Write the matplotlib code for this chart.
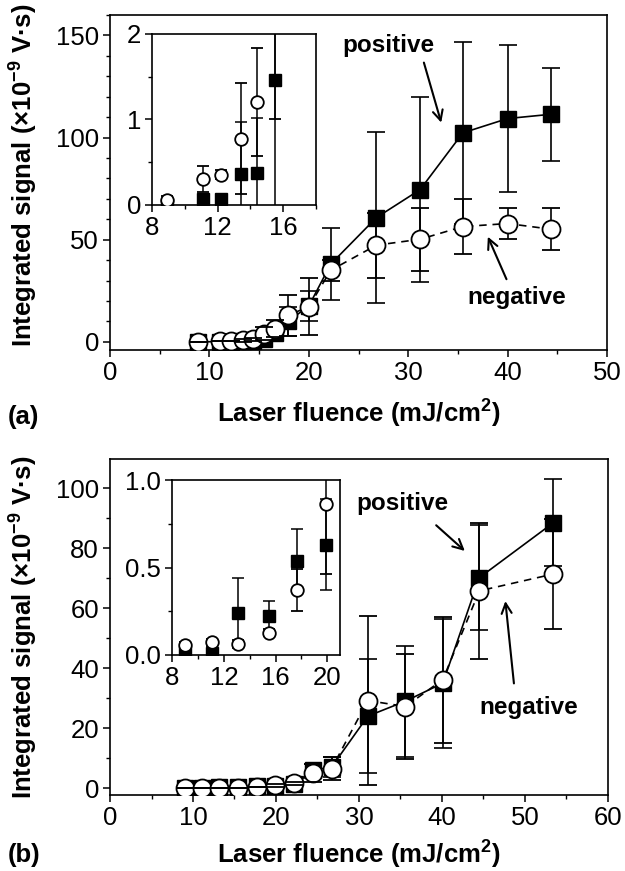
import matplotlib
matplotlib.use('Agg')
import matplotlib.pyplot as plt
from matplotlib.ticker import MultipleLocator, FormatStrFormatter

plt.rcParams.update({
    'font.family': ['Liberation Sans', 'DejaVu Sans'],
    'mathtext.fontset': 'custom',
    'mathtext.rm': 'Liberation Sans',
    'mathtext.bf': 'Liberation Sans:bold',
    'mathtext.it': 'Liberation Sans:italic',
    'axes.linewidth': 1.2,
    'xtick.direction': 'out', 'ytick.direction': 'out',
    'xtick.major.size': 5, 'ytick.major.size': 5,
    'xtick.minor.size': 3, 'ytick.minor.size': 3,
    'xtick.major.width': 1.1, 'ytick.major.width': 1.1,
    'xtick.minor.width': 1.0, 'ytick.minor.width': 1.0,
})

# ---------------- data: panel (a) ----------------
a_fluence = [8.9, 11.1, 12.2, 13.4, 14.4, 15.5, 16.6, 17.9, 20.0, 22.2, 26.8, 31.2, 35.5, 40.0, 44.4]
a_positive = [0.0, 0.07, 0.07, 0.36, 0.37, 1.46, 4.5, 10.0, 17.5, 38.0, 60.8, 74.5, 102.3, 109.3, 111.4]
a_positive_err = [0.02, 0.02, 0.02, 0.61, 0.65, 3.0, 2.0, 7.0, 7.3, 17.5, 42.0, 45.3, 44.7, 35.8, 22.8]
a_negative = [0.05, 0.3, 0.35, 0.77, 1.2, 4.0, 6.5, 13.0, 17.1, 35.0, 47.3, 50.2, 56.4, 57.9, 55.1]
a_negative_err = [0.05, 0.15, 0.05, 0.65, 0.63, 3.0, 4.2, 10.0, 14.0, 5.0, 16.0, 15.5, 13.3, 7.6, 10.3]

# ---------------- data: panel (b) ----------------
b_fluence = [8.98, 11.04, 13.1, 15.46, 17.7, 19.9, 22.2, 24.5, 26.7, 31.06, 35.6, 40.1, 44.5, 53.4]
b_positive = [0.01, 0.01, 0.24, 0.22, 0.54, 0.63, 1.5, 6.0, 7.0, 24.0, 29.0, 35.0, 70.2, 88.5]
b_positive_err = [0.01, 0.01, 0.2, 0.09, 0.18, 0.26, 0.5, 2.0, 3.2, 19.0, 18.5, 21.5, 17.5, 14.5]
b_negative = [0.055, 0.074, 0.065, 0.128, 0.374, 0.863, 1.6, 5.0, 6.5, 29.2, 27.2, 36.2, 65.8, 71.4]
b_negative_err = [0.02, 0.02, 0.02, 0.02, 0.12, 0.4, 0.5, 3.0, 3.8, 28.2, 17.5, 21.0, 22.7, 18.4]

ylabel_text = r'Integrated signal (×10$^{\mathbf{-9}}$ V·s)'
xlabel_text = r'Laser fluence (mJ/cm$^{\mathbf{2}}$)'

TICK_FS = 18.5
LABEL_FS = 18.5
NOTE_FS = 17.5


def draw(ax, x, pos, pos_err, neg, neg_err, ms, cap, lines=True, lw=1.2):
    ax.errorbar(x, pos, yerr=pos_err, fmt='s', ls='-' if lines else 'none',
                color='black', mfc='black', mec='black', ms=ms, lw=lw,
                elinewidth=lw, capsize=cap, capthick=lw, zorder=2)
    cont = ax.errorbar(x, neg, yerr=neg_err, fmt='o', ls='--' if lines else 'none',
                       color='black', mfc='white', mec='black', mew=1.3, ms=ms * 1.08,
                       lw=lw, elinewidth=lw, capsize=cap, capthick=lw, zorder=3)
    if lines:
        cont[0].set_dashes([4.5, 3.5])
        # caps of the open circles are drawn over the symbol (as in the original)
        for cl in cont[1]:
            cl.set_zorder(4)


def style(ax, xmaj, xmin, ymaj, ymin, fs=TICK_FS):
    ax.xaxis.set_major_locator(MultipleLocator(xmaj))
    ax.xaxis.set_minor_locator(MultipleLocator(xmin))
    ax.yaxis.set_major_locator(MultipleLocator(ymaj))
    ax.yaxis.set_minor_locator(MultipleLocator(ymin))
    ax.tick_params(which='both', top=False, right=False, labelsize=fs, pad=3)


fig = plt.figure(figsize=(6.25, 8.71), dpi=100)

# ---------- panel (a) ----------
axA = fig.add_axes([0.176, 0.5982, 0.7952, 0.3846])
draw(axA, a_fluence, a_positive, a_positive_err, a_negative, a_negative_err, ms=12, cap=6.5)
axA.set_xlim(0, 50)
axA.set_ylim(-4, 160)
style(axA, 10, 5, 50, 10)
axA.set_xlabel(xlabel_text, fontsize=LABEL_FS, fontweight='bold', labelpad=9)
axA.set_ylabel(ylabel_text, fontsize=LABEL_FS, fontweight='bold')
axA.yaxis.set_label_coords(-0.14, 0.52)
axA.text(28.0, 144.9, 'positive', fontsize=NOTE_FS, fontweight='bold', ha='center', va='center')
axA.annotate('', xy=(33.4, 106), xytext=(31.5, 138),
             arrowprops=dict(arrowstyle='->', lw=1.5, mutation_scale=18, color='black'))
axA.text(40.9, 21.9, 'negative', fontsize=NOTE_FS, fontweight='bold', ha='center', va='center')
axA.annotate('', xy=(37.9, 52.7), xytext=(40.0, 29.4),
             arrowprops=dict(arrowstyle='->', lw=1.5, mutation_scale=18, color='black'))
fig.text(0.012, 1 - 417 / 871, '(a)', fontsize=LABEL_FS, fontweight='bold', va='center', ha='left')

insA = fig.add_axes([0.2432, 0.7652, 0.2624, 0.1958])
draw(insA, a_fluence, a_positive, a_positive_err, a_negative, a_negative_err,
     ms=8.4, cap=4.5, lines=False, lw=1.1)
insA.set_xlim(8, 18)
insA.set_ylim(0, 2)
style(insA, 4, 2, 1, 0.5)

# ---------- panel (b) ----------
axB = fig.add_axes([0.176, 0.0873, 0.7968, 0.3854])
draw(axB, b_fluence, b_positive, b_positive_err, b_negative, b_negative_err, ms=12, cap=6.5)
axB.set_xlim(0, 60)
axB.set_ylim(-2.3, 109.7)
style(axB, 10, 5, 20, 10)
axB.set_xlabel(xlabel_text, fontsize=LABEL_FS, fontweight='bold', labelpad=6)
axB.set_ylabel(ylabel_text, fontsize=LABEL_FS, fontweight='bold')
axB.yaxis.set_label_coords(-0.14, 0.5)
axB.text(35.2, 95, 'positive', fontsize=NOTE_FS, fontweight='bold', ha='center', va='center')
axB.annotate('', xy=(43.0, 78.5), xytext=(39.05, 88.3),
             arrowprops=dict(arrowstyle='->', lw=1.5, mutation_scale=18, color='black'))
axB.text(50.4, 27.0, 'negative', fontsize=NOTE_FS, fontweight='bold', ha='center', va='center')
axB.annotate('', xy=(47.6, 63.3), xytext=(48.7, 34.0),
             arrowprops=dict(arrowstyle='->', lw=1.5, mutation_scale=18, color='black'))
fig.text(0.012, 1 - 855 / 871, '(b)', fontsize=LABEL_FS, fontweight='bold', va='center', ha='left')

insB = fig.add_axes([0.2757, 0.248, 0.2683, 0.2009])
draw(insB, b_fluence, b_positive, b_positive_err, b_negative, b_negative_err,
     ms=8.4, cap=4.5, lines=False, lw=1.1)
insB.set_xlim(8, 21)
insB.set_ylim(0, 1.0)
style(insB, 4, 2, 0.5, 0.25)
insB.yaxis.set_major_formatter(FormatStrFormatter('%.1f'))

fig.savefig('out.png', dpi=100)
